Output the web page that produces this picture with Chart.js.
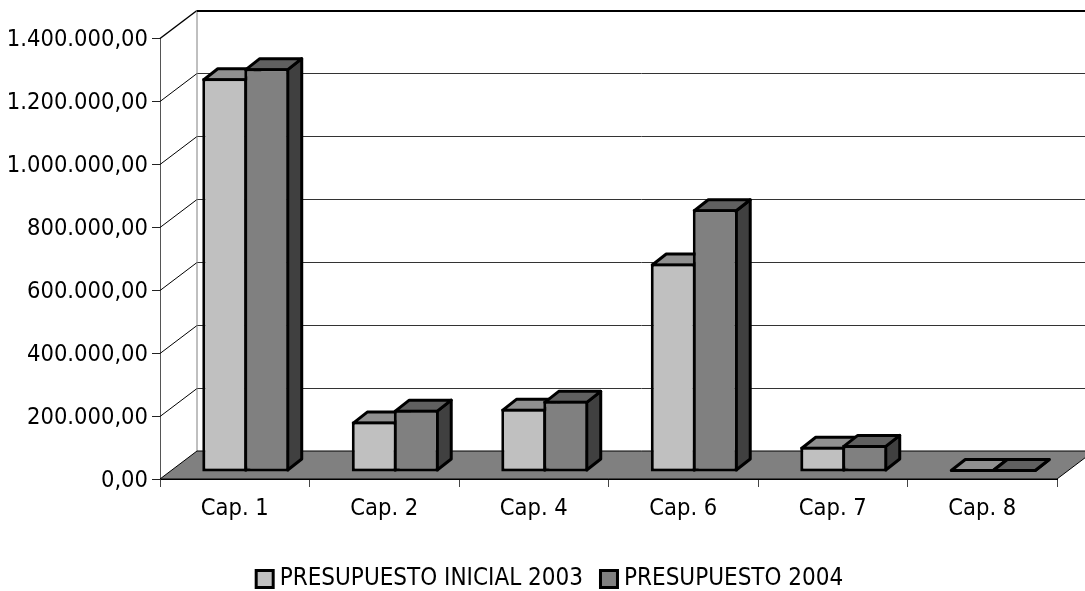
<!DOCTYPE html>
<html>
<head>
<meta charset="utf-8">
<title>Presupuesto</title>
<script src="https://cdn.jsdelivr.net/npm/chart.js@4/dist/chart.umd.min.js"></script>
<style>
html, body { margin: 0; padding: 0; background: #fff; }
#wrap { width: 1085px; height: 591px; }
</style>
</head>
<body>
<div id="wrap"><canvas id="chart" width="1085" height="591"></canvas></div>
<script>
const categories = ['Cap. 1', 'Cap. 2', 'Cap. 4', 'Cap. 6', 'Cap. 7', 'Cap. 8'];
const presupuesto2003 = [1250000, 160000, 201000, 662000, 80000, 0];
const presupuesto2004 = [1282000, 198000, 226000, 834000, 86000, 0];
const yTickLabels = ['0,00', '200.000,00', '400.000,00', '600.000,00', '800.000,00', '1.000.000,00', '1.200.000,00', '1.400.000,00'];

const FONT = '"DejaVu Sans Condensed", "DejaVu Sans", sans-serif';
const FONT_SIZE = 23.5;
const BORDER = 3;
// depth of the box and of the bars, in pixels
const WALL_DX = 37, WALL_DY = -28;
const BAR_SHIFT_X = 11, BAR_SHIFT_Y = -7;
const BAR_DX = 14, BAR_DY = -11;
const TOP_COLORS = ['#909090', '#606060'];
const SIDE_COLORS = ['#909090', '#404040'];

function poly(ctx, pts, fill, stroke, lw) {
    ctx.beginPath();
    pts.forEach((p, i) => i ? ctx.lineTo(p[0], p[1]) : ctx.moveTo(p[0], p[1]));
    ctx.closePath();
    if (fill) { ctx.fillStyle = fill; ctx.fill(); }
    if (stroke) { ctx.strokeStyle = stroke; ctx.lineWidth = lw; ctx.stroke(); }
}

function line(ctx, x1, y1, x2, y2, color, lw) {
    ctx.beginPath();
    ctx.moveTo(x1, y1);
    ctx.lineTo(x2, y2);
    ctx.strokeStyle = color;
    ctx.lineWidth = lw;
    ctx.stroke();
}

function drawBox(chart) {
    const { ctx, chartArea: a, scales: { y } } = chart;
    const backLeft = a.left + WALL_DX;
    y.ticks.forEach((t, i) => {
        const py = Math.round(y.getPixelForTick(i)) + 0.5;
        const top = i === y.ticks.length - 1;
        if (i > 0 && !top) line(ctx, backLeft, py + WALL_DY, a.right + WALL_DX, py + WALL_DY, '#333', 1);
        if (i > 0) line(ctx, a.left, py, backLeft, py + WALL_DY, '#000', top ? 1.5 : 1);
    });
    line(ctx, backLeft, a.top + WALL_DY, backLeft, a.bottom + WALL_DY, '#808080', 1);
    line(ctx, backLeft, a.top + WALL_DY + 1, a.right + WALL_DX, a.top + WALL_DY + 1, '#000', 2);
    poly(ctx, [[a.left, a.bottom], [backLeft, a.bottom + WALL_DY], [a.right + WALL_DX, a.bottom + WALL_DY], [a.right, a.bottom]], '#808080', '#000', 1);
}

function drawSeries(chart, index) {
    const ctx = chart.ctx;
    const meta = chart.getDatasetMeta(index);
    const inset = BORDER / 2;
    ctx.save();
    ctx.translate(BAR_SHIFT_X, BAR_SHIFT_Y);
    ctx.lineJoin = 'round';
    meta.data.forEach(el => {
        const l = el.x - el.width / 2 + inset, r = el.x + el.width / 2 - inset;
        const b = el.base - inset, t = Math.min(el.y + inset, b);
        poly(ctx, [[r, t], [r + BAR_DX, t + BAR_DY], [r + BAR_DX, b + BAR_DY], [r, b]], SIDE_COLORS[index], '#000', BORDER);
        poly(ctx, [[l, t], [l + BAR_DX, t + BAR_DY], [r + BAR_DX, t + BAR_DY], [r, t]], TOP_COLORS[index], '#000', BORDER);
    });
    meta.controller.draw();
    ctx.restore();
}

const box3d = {
    id: 'box3d',
    afterLayout(chart) {
        // legend sits lower and further right than the default place
        chart.legend.left = 48;
        chart.legend.top = 544;
    },
    // chart.js paints the last series first, here the first one has to go under the second
    beforeDatasetsDraw(chart) {
        drawBox(chart);
        drawSeries(chart, 0);
        drawSeries(chart, 1);
        return false;
    }
};

new Chart(document.getElementById('chart'), {
    type: 'bar',
    data: {
        labels: categories,
        datasets: [
            { label: 'PRESUPUESTO INICIAL 2003', data: presupuesto2003, backgroundColor: '#C0C0C0', borderColor: '#000', borderWidth: BORDER },
            { label: 'PRESUPUESTO 2004', data: presupuesto2004, backgroundColor: '#808080', borderColor: '#000', borderWidth: BORDER }
        ]
    },
    options: {
        responsive: false,
        animation: false,
        layout: { padding: { left: 0, right: 28, top: 38, bottom: 0 } },
        datasets: { bar: { categoryPercentage: 0.562, barPercentage: 1.07, borderSkipped: false, inflateAmount: 0 } },
        plugins: {
            tooltip: { enabled: false },
            legend: {
                position: 'bottom',
                labels: {
                    color: '#000',
                    usePointStyle: true,
                    pointStyle: 'rect',
                    boxWidth: 6,
                    boxHeight: 17,
                    padding: 23,
                    font: { family: FONT, size: 24 }
                }
            }
        },
        scales: {
            x: {
                afterFit: s => { s.height = 55; },
                border: { color: '#000', width: 1 },
                grid: { drawOnChartArea: false, tickLength: 8, color: '#444' },
                ticks: { color: '#000', padding: 8, maxRotation: 0, font: { family: FONT, size: FONT_SIZE } }
            },
            y: {
                min: 0,
                max: 1400000,
                afterFit: s => { s.width = 160; },
                border: { color: '#555', width: 1 },
                grid: { drawOnChartArea: false, tickLength: 8, color: '#222' },
                ticks: {
                    stepSize: 200000,
                    color: '#000',
                    padding: 4,
                    labelOffset: 2,
                    font: { family: FONT, size: FONT_SIZE },
                    callback: (v, i) => yTickLabels[i]
                }
            }
        }
    },
    plugins: [box3d]
});
</script>
</body>
</html>
